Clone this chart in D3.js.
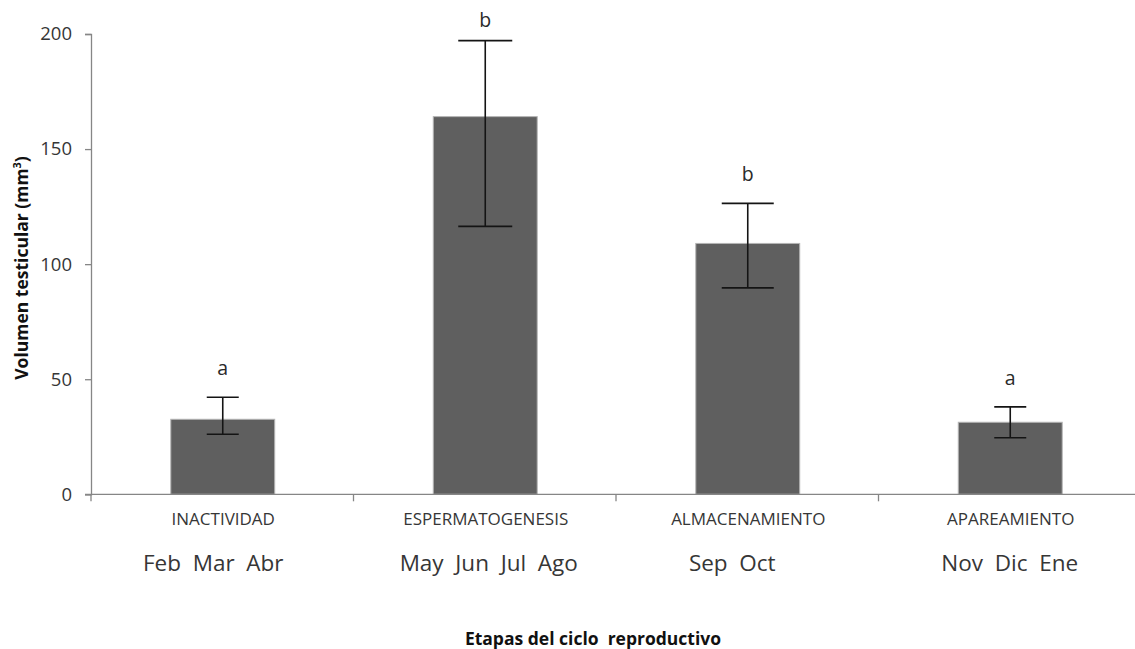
<!DOCTYPE html>
<html>
<head>
<meta charset="utf-8">
<script src="https://cdn.jsdelivr.net/npm/d3@7"></script>
<style>
  html, body { margin: 0; padding: 0; background: #ffffff; }
  svg { display: block; font-family: "Open Sans", "Noto Sans", sans-serif; }
</style>
</head>
<body>
<svg id="chart" width="1135" height="649"></svg>
<script>
// Etapas del ciclo reproductivo: volumen testicular medio con barras de error
const stages = ["INACTIVIDAD", "ESPERMATOGENESIS", "ALMACENAMIENTO", "APAREAMIENTO"];
const months = ["Feb  Mar  Abr", "May  Jun  Jul  Ago", "Sep  Oct", "Nov  Dic  Ene"];
const volume = [32.6, 164.1, 109.0, 31.3];
const errUpper = [42.2, 197.1, 126.4, 38.0];
const errLower = [26.1, 116.4, 89.7, 24.6];
const groupLetters = ["a", "b", "b", "a"];
const yTicks = [0, 50, 100, 150, 200];

// layout and styling
const monthNudge = [-9, 4, -15, 0];
const capWidth = [32, 54, 52, 32];
const axisColor = "#868686";
const textColor = "#363636";
const barFill = "#5f5f5f";

const svg = d3.select("#chart");
const plotLeft = 91, plotRight = 1141, plotTop = 34, plotBottom = 494.3;

const x = d3.scaleBand().domain(stages).range([plotLeft, plotRight]).padding(0);
const y = d3.scaleLinear().domain([0, 200]).range([plotBottom, plotTop]);
const barW = x.bandwidth() * 0.396;

// bars
svg.append("g").selectAll("rect")
  .data(stages)
  .join("rect")
  .attr("x", (d) => x(d) + x.bandwidth() / 2 - barW / 2 + 0.5)
  .attr("y", (d, i) => y(volume[i]))
  .attr("width", barW)
  .attr("height", (d, i) => y(0) - y(volume[i]))
  .attr("fill", barFill)
  .attr("stroke", "#b5b5b5")
  .attr("stroke-width", 1);

// error bars
const eb = svg.append("g").attr("stroke", "#141414").attr("stroke-width", 1.6).attr("fill", "none");
stages.forEach((s, i) => {
  const cx = x(s) + x.bandwidth() / 2 + 0.5;
  const cw = capWidth[i] / 2;
  eb.append("line").attr("x1", cx).attr("x2", cx).attr("y1", y(errUpper[i])).attr("y2", y(errLower[i]));
  eb.append("line").attr("x1", cx - cw).attr("x2", cx + cw).attr("y1", y(errUpper[i])).attr("y2", y(errUpper[i]));
  eb.append("line").attr("x1", cx - cw).attr("x2", cx + cw).attr("y1", y(errLower[i])).attr("y2", y(errLower[i]));
});

// significance letters
svg.append("g").selectAll("text")
  .data(groupLetters)
  .join("text")
  .attr("x", (d, i) => x(stages[i]) + x.bandwidth() / 2 + 0.5)
  .attr("y", (d, i) => Math.max(y(errUpper[i]) - 22, 27))
  .attr("text-anchor", "middle")
  .attr("font-size", 19.5)
  .attr("fill", "#2a2a2a")
  .text((d) => d);

// y axis
const yAxis = svg.append("g")
  .attr("transform", `translate(${plotLeft},0)`)
  .call(d3.axisLeft(y).tickValues(yTicks).tickSize(6).tickPadding(13).tickFormat(d3.format("d")));
yAxis.select(".domain").attr("stroke", axisColor).attr("stroke-width", 1.3);
yAxis.selectAll(".tick line").attr("stroke", axisColor).attr("stroke-width", 1.3);
yAxis.selectAll(".tick text")
  .attr("font-size", 18.5)
  .attr("font-family", "'Open Sans', sans-serif")
  .attr("fill", textColor);

// x axis: boundaries between stages
const xAxis = svg.append("g");
xAxis.append("line")
  .attr("x1", plotLeft - 6).attr("x2", plotRight)
  .attr("y1", y(0)).attr("y2", y(0))
  .attr("stroke", axisColor).attr("stroke-width", 1.3);
const bounds = stages.map((s) => x(s)).concat([plotRight]);
xAxis.selectAll("line.b")
  .data(bounds)
  .join("line")
  .attr("class", "b")
  .attr("x1", (d) => d).attr("x2", (d) => d)
  .attr("y1", y(0)).attr("y2", y(0) + 7)
  .attr("stroke", axisColor).attr("stroke-width", 1.3);

// stage names
svg.append("g").selectAll("text")
  .data(stages)
  .join("text")
  .attr("x", (d) => x(d) + x.bandwidth() / 2 + 1)
  .attr("y", 525)
  .attr("text-anchor", "middle")
  .attr("font-size", 17)
  .attr("fill", textColor)
  .text((d) => d);

// months of each stage
svg.append("g").selectAll("text")
  .data(months)
  .join("text")
  .attr("x", (d, i) => x(stages[i]) + x.bandwidth() / 2 + monthNudge[i])
  .attr("y", 571)
  .attr("text-anchor", "middle")
  .attr("font-size", 22.5)
  .attr("fill", textColor)
  .style("white-space", "pre")
  .text((d) => d);

// axis titles
const yTitle = svg.append("text")
  .attr("transform", "translate(28,268) rotate(-90)")
  .attr("text-anchor", "middle")
  .attr("font-size", 17.5)
  .attr("font-weight", "bold")
  .attr("fill", "#111");
yTitle.append("tspan").text("Volumen testicular (mm");
yTitle.append("tspan").attr("font-size", 11).attr("dy", -7).text("3");
yTitle.append("tspan").attr("dy", 7).text(")");

svg.append("text")
  .attr("x", 593)
  .attr("y", 645)
  .attr("text-anchor", "middle")
  .attr("font-size", 17.5)
  .attr("font-weight", "bold")
  .attr("fill", "#111")
  .style("white-space", "pre")
  .text("Etapas del ciclo  reproductivo");
</script>
</body>
</html>
